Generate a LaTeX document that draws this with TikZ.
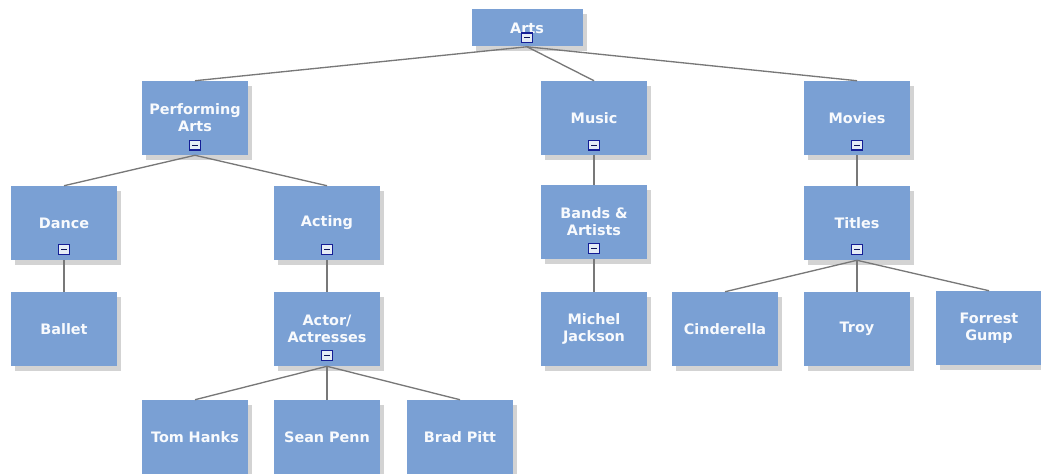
\documentclass[tikz,border=0pt]{standalone}
\usepackage{fontspec}
\setmainfont{DejaVu Sans}
\usetikzlibrary{shadows}
\definecolor{boxblue}{RGB}{122,160,212}
\definecolor{iconnavy}{RGB}{20,30,150}
\definecolor{edgegray}{RGB}{120,120,120}
\begin{document}
\begin{tikzpicture}[x=0.75pt,y=-0.75pt,
  topic/.style={rectangle, fill=boxblue, minimum width=79.5pt, minimum height=55.5pt,
    text width=78pt, align=center, inner sep=0pt,
    font=\fontsize{10.8}{12.6}\selectfont\bfseries, text=white!95!boxblue,
    drop shadow={shadow xshift=3pt, shadow yshift=-3.5pt, opacity=0.35}},
  rootbox/.style={topic, minimum width=83.25pt, minimum height=27.75pt},
  icon/.style={rectangle, draw=iconnavy, line width=1pt, fill=white!80!boxblue,
    minimum width=7.8pt, minimum height=7.2pt, inner sep=0pt,
    path picture={\draw[line width=1pt, iconnavy!60!black]
      ([xshift=1.8pt]path picture bounding box.west) -- ([xshift=-1.8pt]path picture bounding box.east);}},
  link/.style={draw=edgegray, line width=1pt}]
\useasboundingbox (0,0) rectangle (1041,474);
% nodes
\node[rootbox] (arts) at (527,28) {Arts};
\node[topic] (pa) at (195,118) {Performing\\Arts};
\node[topic] (music) at (594,118) {Music};
\node[topic] (movies) at (857,118) {Movies};
\node[topic] (dance) at (64,223) {Dance};
\node[topic] (acting) at (327,223) {Acting};
\node[topic] (bands) at (594,222) {Bands \&\\Artists};
\node[topic] (titles) at (857,223) {Titles};
\node[topic] (ballet) at (64,329) {Ballet};
\node[topic] (actor) at (327,329) {Actor/\\Actresses};
\node[topic] (michel) at (594,329) {Michel\\Jackson};
\node[topic] (cind) at (725,329) {Cinderella};
\node[topic] (troy) at (857,329) {Troy};
\node[topic] (forrest) at (989,328) {Forrest\\Gump};
\node[topic] (tom) at (195,437) {Tom Hanks};
\node[topic] (sean) at (327,437) {Sean Penn};
\node[topic] (brad) at (460,437) {Brad Pitt};
% collapse icons
\node[icon] (arts-i) at ([yshift=6.8pt]arts.south) {};
\node[icon] (pa-i) at ([yshift=7.5pt]pa.south) {};
\node[icon] (music-i) at ([yshift=7.5pt]music.south) {};
\node[icon] (movies-i) at ([yshift=7.5pt]movies.south) {};
\node[icon] (dance-i) at ([yshift=8pt]dance.south) {};
\node[icon] (acting-i) at ([yshift=8pt]acting.south) {};
\node[icon] (bands-i) at ([yshift=8pt]bands.south) {};
\node[icon] (titles-i) at ([yshift=8pt]titles.south) {};
\node[icon] (actor-i) at ([yshift=8pt]actor.south) {};
% connectors
\draw[link] (arts.south) -- (pa.north);
\draw[link] (arts.south) -- (music.north);
\draw[link] (arts.south) -- (movies.north);
\draw[link] (pa.south) -- (dance.north);
\draw[link] (pa.south) -- (acting.north);
\draw[link] (dance.south) -- (ballet.north);
\draw[link] (acting.south) -- (actor.north);
\draw[link] (actor.south) -- (tom.north);
\draw[link] (actor.south) -- (sean.north);
\draw[link] (actor.south) -- (brad.north);
\draw[link] (music.south) -- (bands.north);
\draw[link] (bands.south) -- (michel.north);
\draw[link] (movies.south) -- (titles.north);
\draw[link] (titles.south) -- (cind.north);
\draw[link] (titles.south) -- (troy.north);
\draw[link] (titles.south) -- (forrest.north);
\end{tikzpicture}
\end{document}
